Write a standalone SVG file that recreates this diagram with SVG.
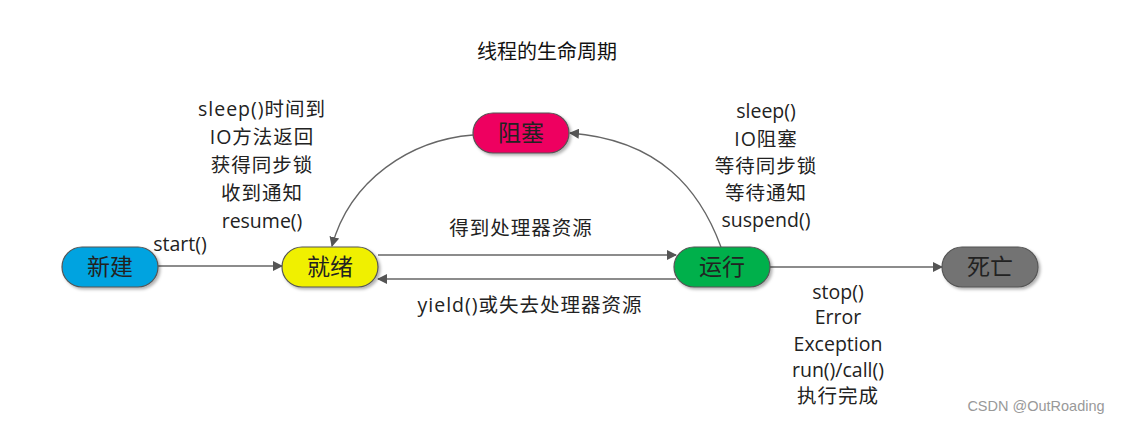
<svg xmlns="http://www.w3.org/2000/svg" width="1122" height="424" viewBox="0 0 1122 424">
<style>
.lbl{font-family:"Open Sans","Noto Sans","Noto Sans CJK SC",sans-serif;font-size:19.5px;letter-spacing:1px;fill:#222;text-anchor:middle}
.lat{letter-spacing:0}
.nt{font-family:"Noto Sans CJK SC",sans-serif;font-size:23px;fill:#222;text-anchor:middle}
.title{font-family:"Noto Sans CJK SC",sans-serif;font-size:20px;fill:#111;text-anchor:middle}
.node{stroke:#555;stroke-width:1.2}
.conn{fill:none;stroke:#666;stroke-width:1.3}
</style>
<defs>
<marker id="ah" viewBox="0 0 10 10" refX="9" refY="5" markerWidth="10" markerHeight="10" markerUnits="userSpaceOnUse" orient="auto">
<path d="M0,0 L10,5 L0,10 z" fill="#555"/>
</marker>
<filter id="sh" x="-10%" y="-20%" width="130%" height="150%">
<feDropShadow dx="2" dy="2" stdDeviation="1.5" flood-color="#000" flood-opacity="0.3"/>
</filter>
</defs>
<rect width="1122" height="424" fill="#fff"/>
<text class="title" x="547" y="59">线程的生命周期</text>
<g id="connectors">
<line class="conn" x1="158" y1="266" x2="282" y2="266" marker-end="url(#ah)"/>
<line class="conn" x1="378" y1="255" x2="676" y2="255" marker-end="url(#ah)"/>
<line class="conn" x1="676" y1="279" x2="378" y2="279" marker-end="url(#ah)"/>
<line class="conn" x1="770" y1="267" x2="942" y2="267" marker-end="url(#ah)"/>
<path class="conn" d="M721,247 C700,190 660,140 570,133" marker-end="url(#ah)"/>
<path class="conn" d="M473,135 C410,140 350,180 332,246" marker-end="url(#ah)"/>
</g>
<g id="node-new"><rect class="node" x="62" y="247" width="96" height="40" rx="20" fill="#00a3e0" filter="url(#sh)"/><text class="nt" x="110" y="275">新建</text></g>
<g id="node-ready"><rect class="node" x="282" y="247" width="96" height="40" rx="20" fill="#f0f000" filter="url(#sh)"/><text class="nt" x="330" y="275">就绪</text></g>
<g id="node-blocked"><rect class="node" x="473" y="113" width="96" height="40" rx="20" fill="#ee0060" filter="url(#sh)"/><text class="nt" x="521" y="141">阻塞</text></g>
<g id="node-running"><rect class="node" x="674" y="247" width="96" height="40" rx="20" fill="#00b04c" filter="url(#sh)"/><text class="nt" x="722" y="275">运行</text></g>
<g id="node-dead"><rect class="node" x="942" y="247" width="96" height="40" rx="20" fill="#737373" filter="url(#sh)"/><text class="nt" x="990" y="275">死亡</text></g>
<g id="labels">
<text class="lbl lat" x="180" y="251">start()</text>
<text class="lbl" x="262" y="116">sleep()时间到</text>
<text class="lbl" x="262" y="144">IO方法返回</text>
<text class="lbl" x="262" y="172">获得同步锁</text>
<text class="lbl" x="262" y="200">收到通知</text>
<text class="lbl lat" x="262" y="228">resume()</text>
<text class="lbl" x="521" y="235">得到处理器资源</text>
<text class="lbl" x="530" y="312">yield()或失去处理器资源</text>
<text class="lbl lat" x="766" y="118">sleep()</text>
<text class="lbl" x="766" y="146">IO阻塞</text>
<text class="lbl" x="766" y="173">等待同步锁</text>
<text class="lbl" x="766" y="200">等待通知</text>
<text class="lbl lat" x="766" y="227">suspend()</text>
<text class="lbl lat" x="838" y="299">stop()</text>
<text class="lbl lat" x="838" y="324">Error</text>
<text class="lbl lat" x="838" y="351">Exception</text>
<text class="lbl lat" x="838" y="377">run()/call()</text>
<text class="lbl" x="838" y="403">执行完成</text>
<text x="1036" y="411" style="font-family:'Liberation Sans',sans-serif;font-size:14.5px;fill:#999;text-anchor:middle">CSDN @OutRoading</text>
</g>
</svg>
